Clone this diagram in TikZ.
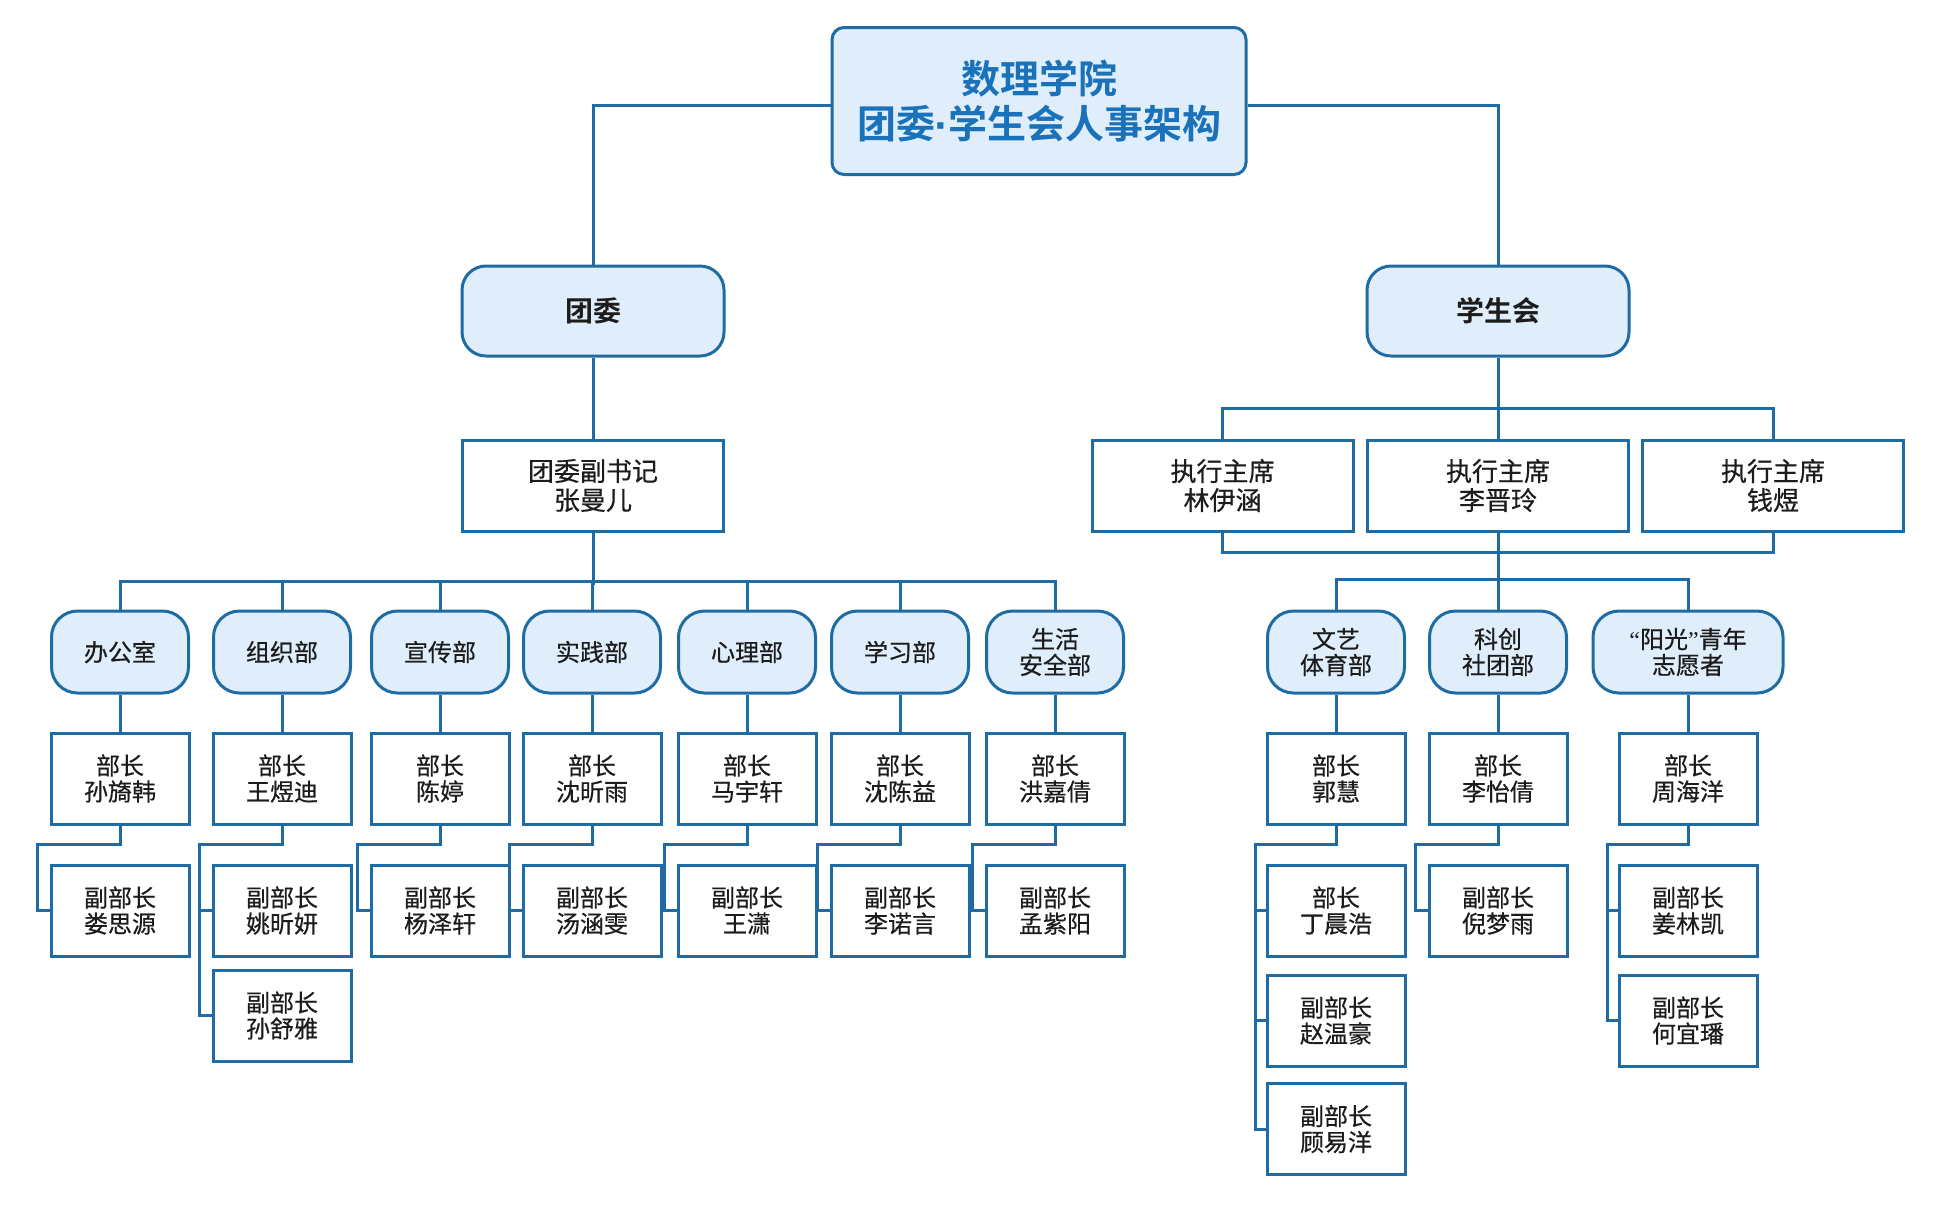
\documentclass[tikz,border=0pt]{standalone}
\usepackage{fontspec}
\setmainfont{Noto Sans CJK SC}[BoldFont={Noto Sans CJK SC Bold}]
\newfontfamily\bodyfont{Noto Sans CJK SC}[FakeBold=0.5]
\newfontfamily\latinfont{Liberation Sans}[FakeBold=1.5]
\newfontfamily\quotefont{Liberation Serif}
\definecolor{lb}{RGB}{30,108,163}
\definecolor{lf}{RGB}{223,238,250}
\definecolor{tb}{RGB}{26,114,186}
\definecolor{tc}{RGB}{28,28,28}
\begin{document}
\begin{tikzpicture}[x=0.5pt,y=-0.5pt,
  conn/.style={draw=lb,line width=1.5pt},
  titlebox/.style={draw=lb,fill=lf,line width=1.5pt,rounded corners=6pt,minimum width=207pt,minimum height=73.5pt,align=center,inner sep=0pt,text=tb,font=\bfseries\fontsize{19.5}{22.5}\selectfont},
  topbox/.style={draw=lb,fill=lf,line width=1.5pt,rounded corners=12pt,minimum width=131pt,minimum height=45pt,align=center,inner sep=0pt,text=tc,font=\bfseries\fontsize{14}{16}\selectfont},
  execbox/.style={draw=lb,fill=white,line width=1.5pt,minimum width=130.5pt,minimum height=45.5pt,align=center,inner sep=0pt,text=tc,font=\bodyfont\fontsize{13}{14.5}\selectfont},
  dept/.style={draw=lb,fill=lf,line width=1.5pt,rounded corners=13pt,minimum width=68.5pt,minimum height=41pt,align=center,inner sep=0pt,text=tc,font=\bodyfont\fontsize{12}{13}\selectfont},
  person/.style={draw=lb,fill=white,line width=1.5pt,minimum width=69pt,minimum height=45.5pt,align=center,inner sep=0pt,text=tc,font=\bodyfont\fontsize{12}{13}\selectfont}
]
\useasboundingbox[fill=white] (0,0) rectangle (1946,1212);

% top level
\node[titlebox] (title) at (1039,101) {数理学院\\团委{\latinfont ·}学生会人事架构};
\node[topbox] (tw) at (593,311) {团委};
\node[topbox] (xsh) at (1498,311) {学生会};
\node[execbox] (fsj) at (593,485.5) {团委副书记\\张曼儿};
\node[execbox] (e1) at (1222.5,485.5) {执行主席\\林伊涵};
\node[execbox] (e2) at (1498,485.5) {执行主席\\李晋玲};
\node[execbox] (e3) at (1773,485.5) {执行主席\\钱煜};

% left departments
\node[dept] (d1) at (120,652) {办公室};
\node[dept] (d2) at (282,652) {组织部};
\node[dept] (d3) at (440,652) {宣传部};
\node[dept] (d4) at (592,652) {实践部};
\node[dept] (d5) at (747,652) {心理部};
\node[dept] (d6) at (900,652) {学习部};
\node[dept] (d7) at (1055,652) {生活\\安全部};
% right departments
\node[dept] (d8) at (1336,652) {文艺\\体育部};
\node[dept] (d9) at (1498,652) {科创\\社团部};
\node[dept,minimum width=95pt] (d10) at (1688,652) {{\quotefont “}阳光{\quotefont ”}青年\\志愿者};

% persons row 1
\node[person] (p1a) at (120,778.5) {部长\\孙旖韩};
\node[person] (p2a) at (282,778.5) {部长\\王煜迪};
\node[person] (p3a) at (440,778.5) {部长\\陈婷};
\node[person] (p4a) at (592,778.5) {部长\\沈昕雨};
\node[person] (p5a) at (747,778.5) {部长\\马宇轩};
\node[person] (p6a) at (900,778.5) {部长\\沈陈益};
\node[person] (p7a) at (1055,778.5) {部长\\洪嘉倩};
\node[person] (p8a) at (1336,778.5) {部长\\郭慧};
\node[person] (p9a) at (1498,778.5) {部长\\李怡倩};
\node[person] (p10a) at (1688,778.5) {部长\\周海洋};
% persons row 2
\node[person] (p1b) at (120,910.5) {副部长\\娄思源};
\node[person] (p2b) at (282,910.5) {副部长\\姚昕妍};
\node[person] (p3b) at (440,910.5) {副部长\\杨泽轩};
\node[person] (p4b) at (592,910.5) {副部长\\汤涵雯};
\node[person] (p5b) at (747,910.5) {副部长\\王潇};
\node[person] (p6b) at (900,910.5) {副部长\\李诺言};
\node[person] (p7b) at (1055,910.5) {副部长\\孟紫阳};
\node[person] (p8b) at (1336,910.5) {部长\\丁晨浩};
\node[person] (p9b) at (1498,910.5) {副部长\\倪梦雨};
\node[person] (p10b) at (1688,910.5) {副部长\\姜林凯};
% persons row 3/4
\node[person] (p2c) at (282,1015.5) {副部长\\孙舒雅};
\node[person] (p8c) at (1336,1020.5) {副部长\\赵温豪};
\node[person] (p10c) at (1688,1020.5) {副部长\\何宜璠};
\node[person] (p8d) at (1336,1129) {副部长\\顾易洋};

% connectors: title
\draw[conn] ([yshift=-2pt]title.west) -| (tw.north);
\draw[conn] ([yshift=-2pt]title.east) -| (xsh.north);
\draw[conn] (tw.south) -- (fsj.north);

% student union to executives
\draw[conn] (xsh.south) -- (e2.north);
\draw[conn] (e1.north) -- ++(0,-30) -| (e3.north);
\draw[conn] (e1.south) -- ++(0,20) -| (e3.south);
\draw[conn] (e2.south) -- ++(0,50);
\draw[conn] (d8.north) -- ++(0,-30) -| (d10.north);
\draw[conn] (d9.north) -- ++(0,-30);

% left bus
\draw[conn] (fsj.south) -- ++(0,52);
\draw[conn] (d1.north) -- ++(0,-28) -| (d7.north);
\foreach \d in {d2,d3,d4,d5,d6} \draw[conn] (\d.north) -- ++(0,-28);

% dept to head
\foreach \k in {1,...,10} \draw[conn] (d\k.south) -- (p\k a.north);

% heads to deputies
\foreach \k in {1,3,4,5,6,7,9}
  \draw[conn] (p\k a.south) -- ++(0,19) -| ([xshift=-6pt]p\k b.west) -- (p\k b.west);
\draw[conn] (p2a.south) -- ++(0,19) -| ([xshift=-6pt]p2c.west) -- (p2c.west);
\draw[conn] ([xshift=-6pt]p2b.west) -- (p2b.west);
\draw[conn] (p8a.south) -- ++(0,19) -| ([xshift=-5pt]p8d.west) -- (p8d.west);
\draw[conn] ([xshift=-5pt]p8b.west) -- (p8b.west);
\draw[conn] ([xshift=-5pt]p8c.west) -- (p8c.west);
\draw[conn] (p10a.south) -- ++(0,19) -| ([xshift=-5pt]p10c.west) -- (p10c.west);
\draw[conn] ([xshift=-5pt]p10b.west) -- (p10b.west);
\end{tikzpicture}
\end{document}
